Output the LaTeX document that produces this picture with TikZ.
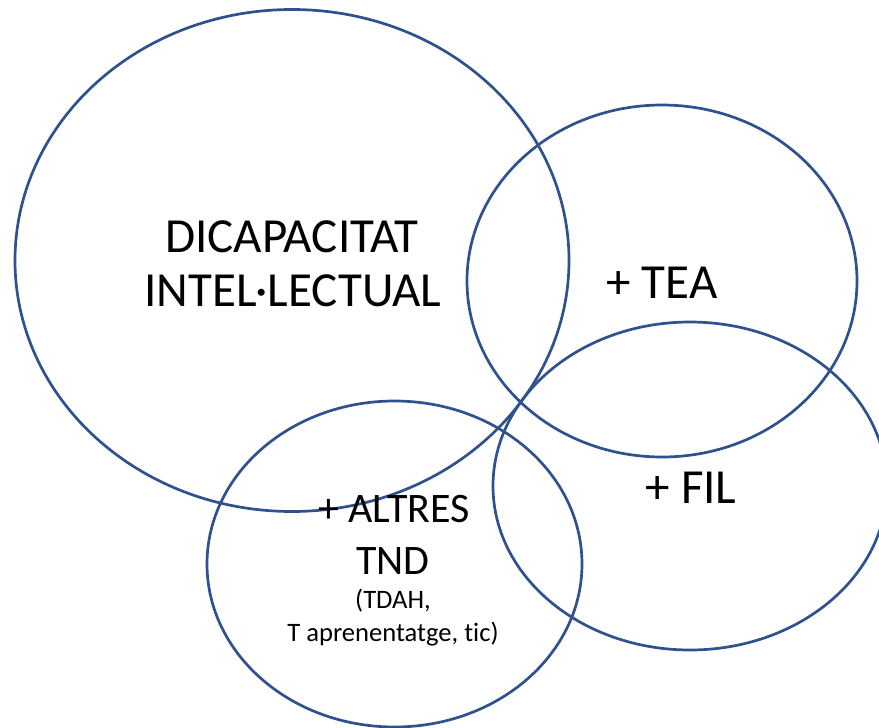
\documentclass[tikz,border=0pt]{standalone}
\usepackage{fontspec}
\setmainfont[Ligatures={NoCommon}]{Carlito}
\usetikzlibrary{shapes.geometric}
\definecolor{ringblue}{RGB}{47,82,143}
\tikzset{
  ring/.style={ellipse, draw=ringblue, line width=2.7pt, inner sep=0pt},
  bigtxt/.style={anchor=base, inner sep=0pt, font=\fontsize{49}{57}\selectfont},
  midtxt/.style={anchor=base, inner sep=0pt, font=\fontsize{42}{52}\selectfont},
  smalltxt/.style={anchor=base, inner sep=0pt, font=\fontsize{26.6}{32}\selectfont}
}
\begin{document}
\begin{tikzpicture}[x=1pt, y=-1pt]
\useasboundingbox (0,0) rectangle (879,728);
\clip (0,0) rectangle (879,728);
\fill[white] (0,0) rectangle (879,728);
% circles
\node[ring, minimum width=554pt, minimum height=502pt] (di) at (292,260.5) {};
\node[ring, minimum width=390pt, minimum height=352pt] (tea) at (662,281) {};
\node[ring, minimum width=394pt, minimum height=328pt] (fil) at (690,486) {};
\node[ring, minimum width=375pt, minimum height=326pt] (tnd) at (394.5,564) {};
% labels
\node[bigtxt] (l1) at (292,252) {DICAPACITAT};
\node[bigtxt] (l2) at (293,306) {INTEL·LECTUAL};
\node[bigtxt] (l3) at (662,298) {+ TEA};
\node[bigtxt] (l4) at (691,503) {+ FIL};
\node[midtxt] (l5) at (394,522) {+ ALTRES};
\node[midtxt] (l6) at (393,574) {TND};
\node[smalltxt] (l7) at (393,608) {(TDAH,};
\node[smalltxt] (l8) at (393,641) {T aprenentatge, tic)};
\end{tikzpicture}
\end{document}
